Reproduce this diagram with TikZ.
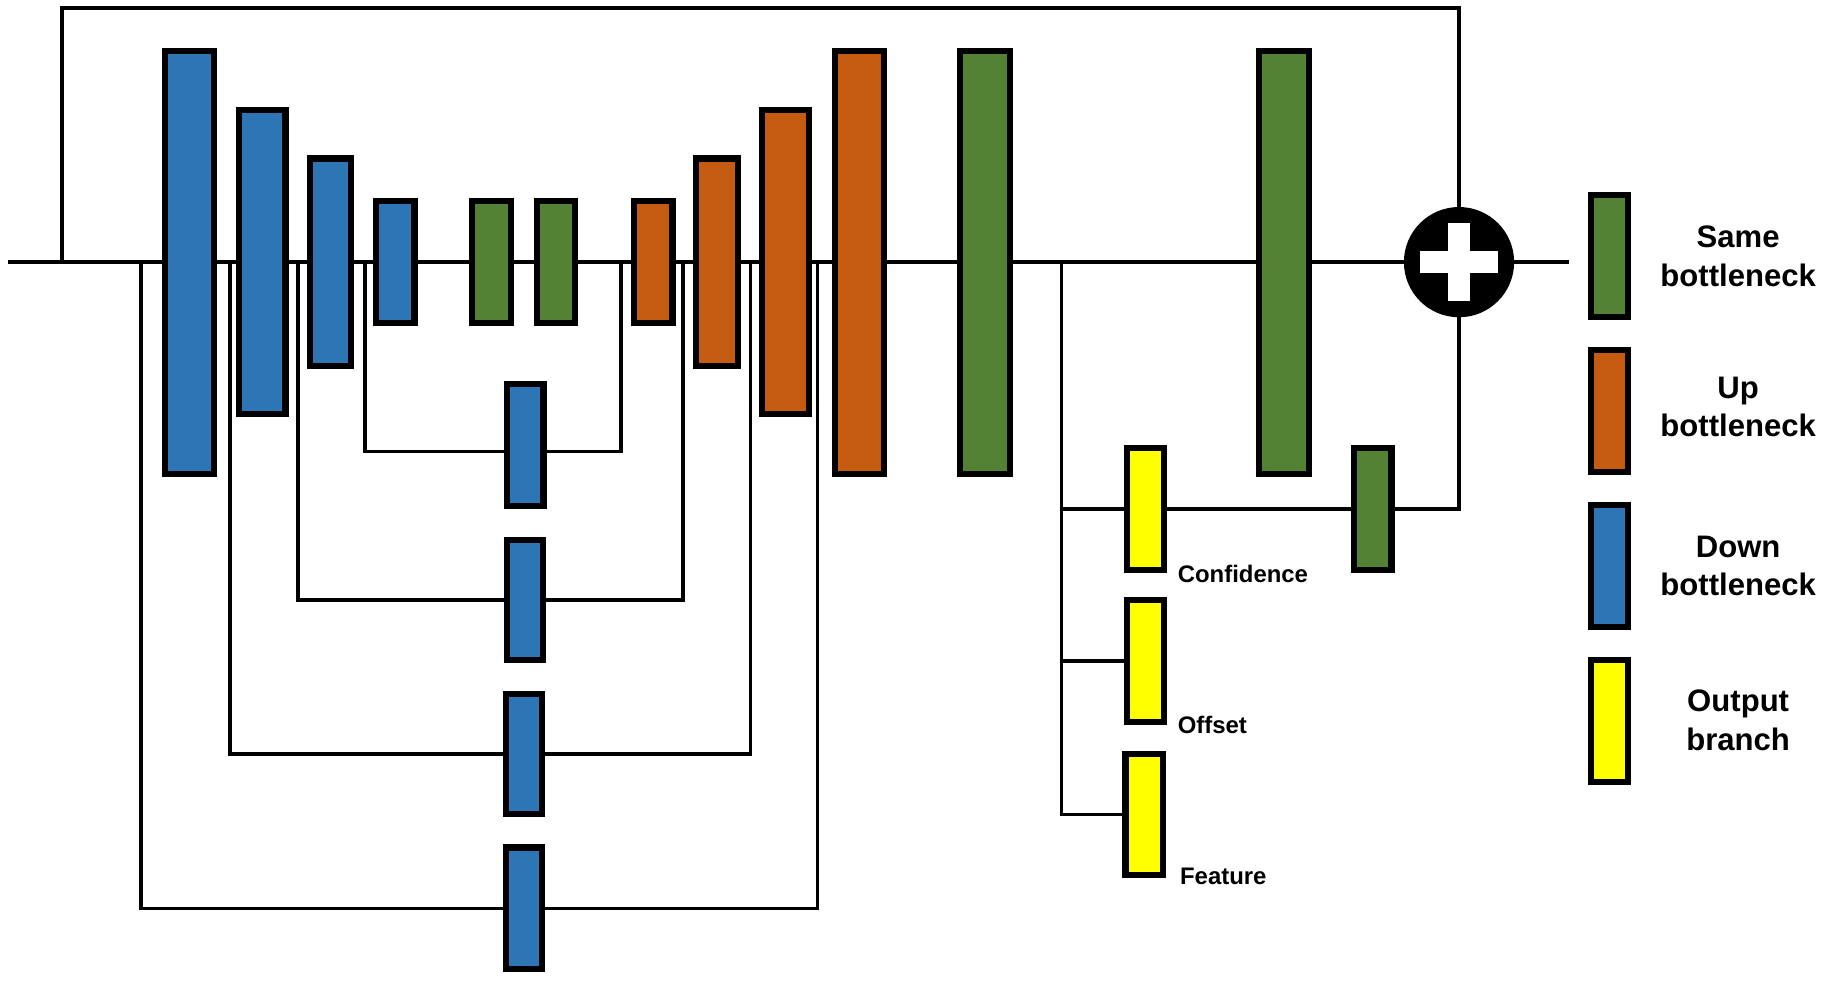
\documentclass[tikz,border=0pt]{standalone}
\usepackage{fontspec}
\setmainfont{Liberation Sans}
\usetikzlibrary{backgrounds}
\definecolor{dblue}{HTML}{2E75B6}
\definecolor{uorange}{HTML}{C55A11}
\definecolor{sgreen}{HTML}{548235}
\definecolor{oyellow}{HTML}{FFFF00}
\begin{document}
\begin{tikzpicture}[x=1pt,y=-1pt,
  bx/.style 2 args={draw=black, line width=5.2pt, inner sep=0pt, outer sep=0pt,
     minimum width=#1pt-5.2pt, minimum height=#2pt-5.2pt},
  ml/.style={line width=3.4pt, black},
  sl/.style={line width=3.0pt, black},
  lg/.style={font=\fontsize{26.5}{32.7}\selectfont\bfseries, align=center, inner sep=0pt},
  lb/.style={font=\fontsize{20.4}{24}\selectfont\bfseries, anchor=base west, inner sep=0pt}]
\useasboundingbox (0,0) rectangle (1568,836);
% encoder (down)
\node[bx={47}{366}, fill=dblue] (D1) at (161.5,223.5) {};
\node[bx={45}{264}, fill=dblue] (D2) at (223.5,223.5) {};
\node[bx={40}{182}, fill=dblue] (D3) at (282,223.5) {};
\node[bx={38}{109}, fill=dblue] (D4) at (337,223.5) {};
% same
\node[bx={38}{109}, fill=sgreen] (G1) at (419,223.5) {};
\node[bx={38}{109}, fill=sgreen] (G2) at (474,223.5) {};
% decoder (up)
\node[bx={38}{109}, fill=uorange] (U1) at (557,223.5) {};
\node[bx={41}{182}, fill=uorange] (U2) at (611.5,223.5) {};
\node[bx={45}{264}, fill=uorange] (U3) at (669.5,223.5) {};
\node[bx={47}{366}, fill=uorange] (U4) at (733,223.5) {};
% same large
\node[bx={48}{366}, fill=sgreen] (G3) at (840,223.5) {};
\node[bx={48}{366}, fill=sgreen] (G4) at (1095,223.5) {};
% skip blocks
\node[bx={36}{109}, fill=dblue] (S1) at (448,379.5) {};
\node[bx={36}{108}, fill=dblue] (S2) at (447.5,511.5) {};
\node[bx={36}{108}, fill=dblue] (S3) at (446.5,643) {};
\node[bx={36}{109}, fill=dblue] (S4) at (446.5,774.5) {};
% output branches
\node[bx={37}{109}, fill=oyellow] (Y1) at (976.5,434) {};
\node[bx={37}{109}, fill=oyellow] (Y2) at (976.5,563.5) {};
\node[bx={37}{109}, fill=oyellow] (Y3) at (975.5,694.5) {};
\node[bx={37}{109}, fill=sgreen] (G5) at (1170.5,434) {};
\node[lb] (lconf) at (1004,497) {Confidence};
\node[lb] (loff) at (1004,625) {Offset};
\node[lb] (lfeat) at (1006,754.5) {Feature};
% plus
\node[circle, fill=black, minimum size=94pt, inner sep=0pt, outer sep=0pt] (plus) at (1244,223.5) {};
\fill[white] ([shift={(-33,-9.5)}]plus.center) rectangle ([shift={(33,9.5)}]plus.center);
\fill[white] ([shift={(-9,-33)}]plus.center) rectangle ([shift={(9,33)}]plus.center);
% legend
\node[bx={37}{109}, fill=sgreen] (L1) at (1372.5,218.5) {};
\node[bx={37}{109}, fill=uorange] (L2) at (1372.5,350.5) {};
\node[bx={37}{109}, fill=dblue] (L3) at (1372.5,482.7) {};
\node[bx={37}{109}, fill=oyellow] (L4) at (1372.5,614.6) {};
\node[lg] (t1) at (1482,218.5) {Same\\bottleneck};
\node[lg] (t2) at (1482,347) {Up\\bottleneck};
\node[lg] (t3) at (1482,482.7) {Down\\bottleneck};
\node[lg] (t4) at (1482,614) {Output\\branch};
% connectors
\coordinate (in) at (7,223.5);
\coordinate (out) at (1338,223.5);
\coordinate (tl) at (53,223.5);
\coordinate (tr) at (1244,6.5);
\coordinate (k1a) at (311,223.5);
\coordinate (k1m) at (448,385);
\coordinate (k1b) at (529.5,223.5);
\coordinate (k2a) at (254,223.5);
\coordinate (k2b) at (582.5,223.5);
\coordinate (k3a) at (196,223.5);
\coordinate (k3b) at (640,223.5);
\coordinate (k4a) at (120,223.5);
\coordinate (k4b) at (697,223.5);
\coordinate (br) at (905,223.5);
\begin{scope}[on background layer]
\fill[white] (0,0) rectangle (1568,836);
\draw[ml] (in) -- (plus);
\draw[ml] (plus) -- (out);
\draw[ml] (tl) |- (tr) -- (plus);
\draw[sl] (k1a) |- (k1m) -| (k1b);
\draw[sl] (k2a) |- (S2) -| (k2b);
\draw[sl] (k3a) |- (S3) -| (k3b);
\draw[sl] (k4a) |- (S4) -| (k4b);
\draw[sl] (br) |- (Y1);
\draw[sl] (br) |- (Y2);
\draw[sl] (br) |- (Y3);
\draw[sl] (Y1) -- (G5);
\draw[sl] (G5) -| (plus);
\end{scope}
\end{tikzpicture}
\end{document}
